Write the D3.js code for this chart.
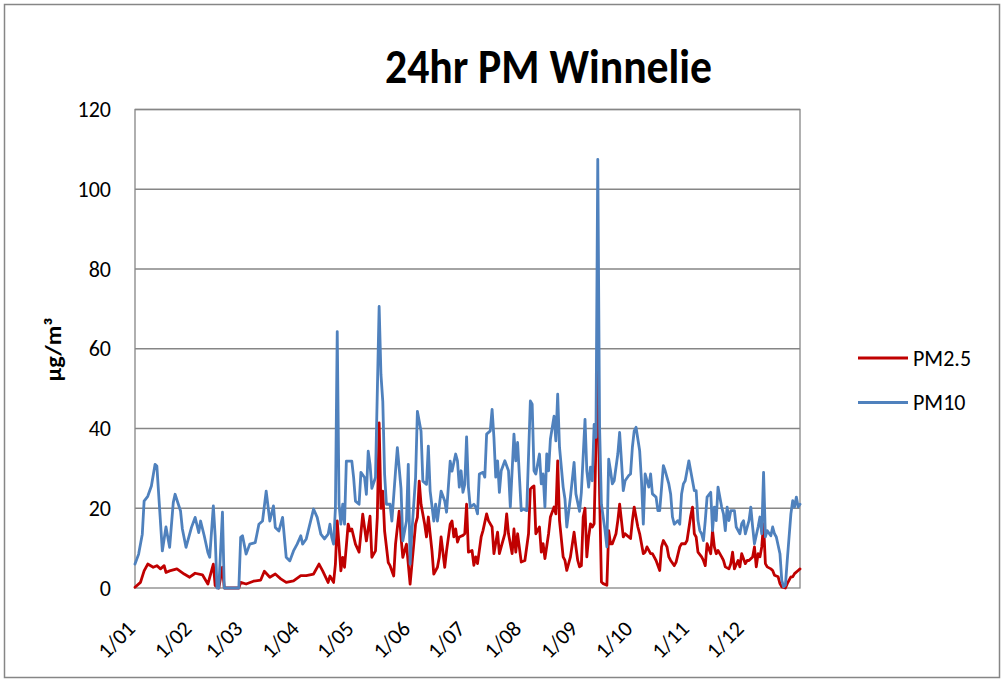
<!DOCTYPE html>
<html>
<head>
<meta charset="utf-8">
<script src="https://cdn.jsdelivr.net/npm/d3@7"></script>
<style>
  html, body { margin: 0; padding: 0; background: #fff; }
  svg { display: block; font-family: Carlito, Calibri, Lato, sans-serif; }
</style>
</head>
<body>
<svg id="chart" width="1003" height="681"></svg>
<script>
// ---- data (day of year, value) ----
const monthTickDays = [0, 31, 59, 90, 120, 151, 181, 212, 243, 273, 304, 334];
const monthTickLabels = ["1/01","1/02","1/03","1/04","1/05","1/06","1/07","1/08","1/09","1/10","1/11","1/12"];
const yTicks = [0, 20, 40, 60, 80, 100, 120];

const pm10Days = [0,2,4,5,7,9,11,12,15,17,19,21,22,25,26,28,31,33,35,36,38,40,41,43,44,45,46,48,49,57,58,59,61,63,66,68,70,72,74,76,77,79,81,83,85,87,89,91,92,94,98,100,102,104,106,107,108,109,110,111,112,113,114,115,116,119,120,121,123,124,126,127,128,129,130,132,134,135,136,137,138,140,141,143,144,146,147,149,150,151,152,154,155,157,158,160,161,162,164,165,166,168,170,171,173,174,176,177,178,179,180,181,182,183,184,186,187,188,189,191,192,193,195,196,197,198,199,200,201,203,205,206,208,209,210,212,213,215,217,218,219,220,222,223,224,225,226,227,228,230,231,232,233,235,236,237,239,241,242,244,245,247,248,249,250,251,252,253,254,255,256,258,259,260,261,262,263,265,266,267,268,269,271,272,273,274,275,277,278,279,280,282,283,284,286,287,288,290,291,293,294,295,296,298,299,300,301,302,304,306,307,308,309,310,311,312,313,314,316,317,318,319,320,322,323,324,325,326,327,329,330,332,333,334,335,337,338,339,340,342,343,344,345,346,347,349,350,351,352,354,355,356,357,358,360,361,362,363,364,365];
const pm10Vals = [6,8.5,13.5,21.8,23,25.6,31,30.6,9.3,15.3,10.2,21.4,23.5,19.3,14.8,10.2,15.2,17.7,13.9,16.8,13.1,8.9,7.7,20.6,13.1,0,0,19,0,0,12.7,13.1,8.5,11,11.4,16,16.8,24.3,16.8,20.6,15.2,14.3,17.7,7.7,6.8,9.3,11,13.1,11,12.3,19.8,17.7,13.5,12.3,13.5,16,12.7,11,20,64.3,21,16,21,16,31.8,31.8,27.7,21.8,21,29,27.7,23.5,34.3,31,25,27.7,70.6,53.5,46.8,28.5,21,21,16.8,29.3,35.2,25,11.8,16.8,31,6,14.3,27.7,44.3,39.3,26.8,26,35.6,24.3,16.8,21,16.8,24.3,21.8,19,31.8,29.3,33.6,31.9,25.3,29.4,24,26,37.9,25.3,20.3,21,20.3,18.6,28.6,29,27.8,38.6,39.4,44.8,37.8,27.8,31.9,24,29.4,31.9,29.4,20.3,38.6,31.9,36.5,19.4,19.8,19.4,46.9,46.1,29.4,28.6,33.6,26.1,28.6,20.3,33.6,29.4,37.3,43.1,36.9,48.6,35.3,25.3,22.3,15.3,22.8,31.5,23.6,19.2,24,42.3,29.4,25.3,30.3,26.9,41,37.8,107.5,40.3,21,14.4,10.3,32.3,29.4,26.1,26.9,33.6,39,31.9,24.4,26.9,28.2,28.6,35.3,39.4,40.3,34.4,26.9,16,28.6,25.3,28.6,23.6,22.8,19.4,19.4,30.7,29.4,26.1,23.6,17.8,16,16.9,16,23.6,26.1,26.9,31.9,26.9,24.4,24.4,16.9,14.4,13.6,11.9,16.9,22.8,24,14.4,20.3,16.9,25.3,20.3,18.6,14.4,20.3,16.9,19.4,19.4,15.3,13.6,16.1,16.9,13.6,16.9,20.3,15.3,11.1,15.3,17.8,13.6,29,12.8,14.4,13.1,15.3,13.6,12.8,8.6,1.9,0.3,0.7,6.9,18.6,21.9,20.3,22.8,20.3,21];

const pm25Days = [0,3,5,7,10,12,14,16,17,19,23,27,30,33,37,40,43,44,46,48,49,57,58,61,65,69,71,74,77,80,83,87,91,94,98,101,103,106,107,109,110,111,113,114,115,117,118,119,121,123,125,127,129,130,132,133,134,135,136,137,139,140,142,143,145,146,147,149,151,152,154,155,156,157,159,160,161,163,164,166,167,168,170,171,173,174,175,176,177,178,180,181,182,183,185,186,187,188,190,191,193,194,196,197,199,200,201,203,204,205,207,208,209,210,212,214,216,217,218,219,220,222,223,224,225,227,228,230,231,232,233,235,236,237,239,241,242,243,244,245,246,247,248,249,250,251,252,253,254,255,256,257,259,260,261,262,264,265,266,268,269,270,272,273,274,276,277,279,280,281,283,284,286,288,289,290,292,293,294,296,297,299,300,302,303,305,306,307,308,309,311,312,313,314,316,317,318,319,320,322,323,324,326,327,328,329,331,332,333,335,336,337,339,340,341,342,343,344,345,346,347,349,350,351,353,354,355,357,358,360,361,362,364,365];
const pm25Vals = [0.2,1.4,4.3,6,5.2,5.6,4.8,5.6,3.9,4.3,4.8,3.5,2.7,3.7,3.3,1,6,0.6,0,5.2,0,0,1.4,1,1.7,2,4.2,2.7,3.5,2.3,1.4,1.8,3.1,3.1,3.5,6,4.3,1.4,3,1.4,6,16.8,4.3,7.7,5.2,16,14.3,14.8,11,9,18.5,11.8,18,7.7,9.3,17.7,41.4,20,24.3,14.3,6.4,5.6,3,11,19.3,12.8,7.7,11,1,6,16,17.7,26.8,21,16,12.8,17.8,9.3,3.5,5.2,7.7,12.8,5.2,9.3,16,16.8,12.8,14.8,11.5,12.8,13.2,13.6,21,9,9.4,5.7,7.8,6.1,12.8,14.4,18.6,16.9,15.3,8.6,14,8.6,10.3,13.6,18.6,13.6,8.6,14.8,9,13.6,6.5,6.9,13.6,24.8,25.3,25.6,13.6,15.3,9,11.1,7.4,13.6,17.8,20.3,18.6,31.9,16.9,7.8,6.9,4.4,7.8,14,10.3,6.9,5.3,5.6,17.8,20,7.8,12.8,16.1,15.3,16.1,36.1,55,23.6,1.5,1.1,0.7,14.4,11.1,11.1,13.6,16.9,21,12.8,13.6,13.2,12.4,16.9,20.3,15.3,13.6,8.6,9,10.3,8.6,8.6,6.9,4.4,10.3,11.9,10.3,7.8,6.9,5.6,6.5,10.3,11.1,11.1,11.9,18,20.3,13.6,12.8,9,7.8,6.9,5.6,11.1,8.6,14.4,10.3,8.6,9.4,7.8,6.9,5.3,4.8,6.1,9,4.8,6.9,5.3,8.6,6.1,6.9,6.9,7.8,10.3,5.3,8.6,7.8,10.3,16.1,6.1,5.3,4.8,4.4,3.2,2.8,1.1,0.3,0,1.1,2.8,2.8,3.6,4.4,4.8];

const seriesNames = ["PM2.5", "PM10"];
const seriesColors = ["#C00000", "#4F81BD"];
const chartTitle = "24hr PM Winnelie";
const yTitle = "µg/m³";

// ---- drawing ----
const svg = d3.select("#chart");
const plot = { left: 135, right: 800, top: 109.5, bottom: 588 };

svg.append("rect")
  .attr("x", 4.5).attr("y", 4.5).attr("width", 995).attr("height", 673)
  .attr("fill", "#fff").attr("stroke", "#868686").attr("stroke-width", 1.5);

const x = d3.scaleLinear().domain([0, 365]).range([plot.left, plot.right]);
const y = d3.scaleLinear().domain([0, 120]).range([plot.bottom, plot.top]);

// gridlines
svg.append("g").selectAll("line").data(yTicks.filter(d => d > 0)).join("line")
  .attr("x1", plot.left).attr("x2", plot.right)
  .attr("y1", d => y(d)).attr("y2", d => y(d))
  .attr("stroke", "#868686").attr("stroke-width", 1.3);

// plot border
svg.append("rect")
  .attr("x", plot.left).attr("y", plot.top)
  .attr("width", plot.right - plot.left).attr("height", plot.bottom - plot.top)
  .attr("fill", "none").attr("stroke", "#868686").attr("stroke-width", 1.3);

// y axis
const yAxis = d3.axisLeft(y).tickValues(yTicks).tickSize(0).tickPadding(24);
const gy = svg.append("g").attr("transform", `translate(${plot.left},0)`).call(yAxis);
gy.select(".domain").remove();
gy.selectAll("text").attr("font-size", 22).attr("fill", "#000")
  .attr("font-family", "Carlito, Calibri, Lato, sans-serif");

// x axis
const xAxis = d3.axisBottom(x).tickValues(monthTickDays)
  .tickFormat((d, i) => monthTickLabels[i]).tickSize(0);
const gx = svg.append("g").attr("transform", `translate(0,${plot.bottom})`).call(xAxis);
gx.select(".domain").remove();
gx.selectAll("text")
  .attr("font-size", 22).attr("fill", "#000")
  .attr("font-family", "Carlito, Calibri, Lato, sans-serif")
  .attr("text-anchor", "end")
  .attr("y", 0).attr("dy", 0)
  .attr("transform", "translate(1,42) rotate(-45)");

// lines
const line = d3.line().x(d => x(d[0])).y(d => y(d[1])).curve(d3.curveLinear);
const pm25 = pm25Days.map((d, i) => [d, pm25Vals[i]]);
const pm10 = pm10Days.map((d, i) => [d, pm10Vals[i]]);
[pm25, pm10].forEach((data, i) => {
  svg.append("path").datum(data)
    .attr("d", line).attr("fill", "none")
    .attr("stroke", seriesColors[i]).attr("stroke-width", 2.8)
    .attr("stroke-linejoin", "round").attr("stroke-linecap", "round");
});

// title
svg.append("text").attr("x", 385).attr("y", 83)
  .attr("font-size", 48).attr("font-weight", "bold").attr("fill", "#000")
  .attr("textLength", 327).attr("lengthAdjust", "spacingAndGlyphs")
  .text(chartTitle);

// y title
svg.append("text")
  .attr("transform", "translate(61,349.5) rotate(-90)")
  .attr("text-anchor", "middle")
  .attr("font-size", 22).attr("font-weight", "bold").attr("fill", "#000")
  .attr("textLength", 64).attr("lengthAdjust", "spacingAndGlyphs")
  .text(yTitle);

// legend
const legY = [358, 402.5];
seriesNames.forEach((name, i) => {
  svg.append("line").attr("x1", 858).attr("x2", 908)
    .attr("y1", legY[i]).attr("y2", legY[i])
    .attr("stroke", seriesColors[i]).attr("stroke-width", 3);
  svg.append("text").attr("x", 913).attr("y", legY[i] + 7.5)
    .attr("font-size", 22).attr("fill", "#000").text(name);
});
</script>
</body>
</html>
